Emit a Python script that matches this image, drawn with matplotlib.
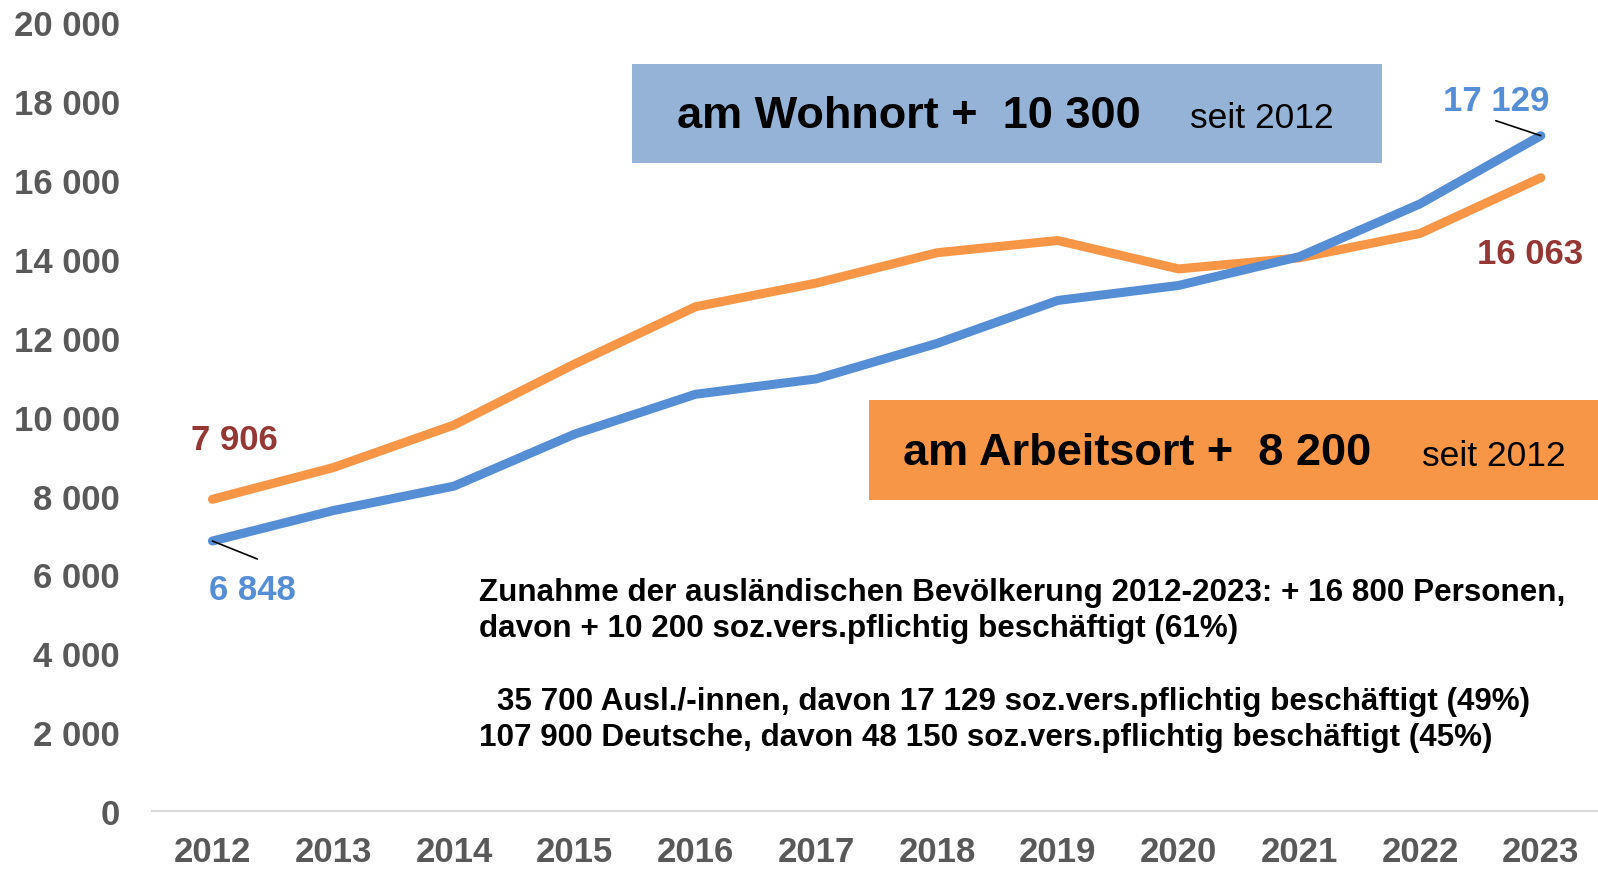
import matplotlib
matplotlib.use("Agg")
import matplotlib.pyplot as plt
from matplotlib.patches import Rectangle
from matplotlib.ticker import FuncFormatter

years = ["2012", "2013", "2014", "2015", "2016", "2017", "2018", "2019", "2020", "2021", "2022", "2023"]
wohnort = [6848, 7620, 8240, 9560, 10570, 10960, 11860, 12950, 13330, 14060, 15400, 17129]
arbeitsort = [7906, 8710, 9790, 11340, 12790, 13390, 14160, 14470, 13750, 14030, 14650, 16063]
yticks = list(range(0, 20001, 2000))

BLUE = "#558ED5"
ORANGE = "#F79646"
DARKRED = "#953735"
GREY = "#595959"

plt.rcParams['font.family'] = ['Liberation Sans', 'DejaVu Sans']

fig = plt.figure(figsize=(15.98, 8.7), dpi=100)
W, H = 1598, 870
ax = fig.add_axes([152 / W, (H - 812) / H, 1 - 152 / W + 0.002, (812 - 23.5) / H])

x = list(range(len(years)))
ax.plot(x, arbeitsort, color=ORANGE, lw=6.5, solid_capstyle='round', solid_joinstyle='round', zorder=3)
ax.plot(x, wohnort, color=BLUE, lw=6.5, solid_capstyle='round', solid_joinstyle='round', zorder=4)

ax.set_xlim(-0.5, 11.5)
ax.set_ylim(0, 20000)
ax.set_xticks(x)
ax.set_xticklabels(years)
ax.set_yticks(yticks)
ax.yaxis.set_major_formatter(FuncFormatter(lambda v, p: f"{int(v):,}".replace(",", " ")))
for s in ["top", "right", "left"]:
    ax.spines[s].set_visible(False)
ax.spines["bottom"].set_color("#D9D9D9")
ax.spines["bottom"].set_linewidth(1.5)
ax.tick_params(axis='y', length=0, pad=23, labelsize=25, labelcolor=GREY)
ax.tick_params(axis='x', length=0, pad=17, labelsize=25, labelcolor=GREY)
for t in ax.get_xticklabels() + ax.get_yticklabels():
    t.set_fontweight('bold')

def px(dx, dy):
    return (dx * 0.72, -dy * 0.72)

# data labels
ax.annotate(f"{arbeitsort[0]:,}".replace(",", " "), xy=(0, arbeitsort[0]), xytext=px(22, -60),
            textcoords='offset points', ha='center', va='center', fontsize=25, fontweight='bold', color=DARKRED)
ax.annotate("", xy=(0, wohnort[0]), xytext=px(45, 18), textcoords='offset points',
            arrowprops=dict(arrowstyle='-', color='black', lw=1.2, shrinkA=0, shrinkB=0), zorder=5)
ax.annotate(f"{wohnort[0]:,}".replace(",", " "), xy=(0, wohnort[0]), xytext=px(40, 48),
            textcoords='offset points', ha='center', va='center', fontsize=25, fontweight='bold', color=BLUE)
ax.annotate("", xy=(11, wohnort[-1]), xytext=px(-45, -15), textcoords='offset points',
            arrowprops=dict(arrowstyle='-', color='black', lw=1.2, shrinkA=0, shrinkB=0), zorder=5)
ax.annotate(f"{wohnort[-1]:,}".replace(",", " "), xy=(11, wohnort[-1]), xytext=px(-45, -35),
            textcoords='offset points', ha='center', va='center', fontsize=25, fontweight='bold', color=BLUE)
ax.annotate(f"{arbeitsort[-1]:,}".replace(",", " "), xy=(11, arbeitsort[-1]), xytext=px(-11, 76),
            textcoords='offset points', ha='center', va='center', fontsize=25, fontweight='bold', color=DARKRED)

# boxes
def fbox(x0, y0, x1, y1, color):
    fig.patches.append(Rectangle((x0 / W, 1 - y1 / H), (x1 - x0) / W, (y1 - y0) / H,
                                 transform=fig.transFigure, facecolor=color, edgecolor='none', zorder=6))

fbox(632, 65, 1382, 164, "#95B3D7")
fbox(869, 401, 1600, 501, ORANGE)

def ftext(xp, yp, s, **kw):
    fig.text(xp / W, 1 - yp / H, s, zorder=7, **kw)

ftext(677, 117, "am Wohnort +  10 300", fontsize=32.5, fontweight='bold', color='black', va='center', ha='left')
ftext(1190, 119, "seit 2012", fontsize=25.5, color='black', va='center', ha='left')
ftext(903, 454, "am Arbeitsort +  8 200", fontsize=32.5, fontweight='bold', color='black', va='center', ha='left')
ftext(1422, 456, "seit 2012", fontsize=25.5, color='black', va='center', ha='left')

lines = [
    (479, 593, "Zunahme der ausländischen Bevölkerung 2012-2023: + 16 800 Personen,"),
    (479, 629, "davon + 10 200 soz.vers.pflichtig beschäftigt (61%)"),
    (497, 702, "35 700 Ausl./-innen, davon 17 129 soz.vers.pflichtig beschäftigt (49%)"),
    (479, 738, "107 900 Deutsche, davon 48 150 soz.vers.pflichtig beschäftigt (45%)"),
]
for xp, yp, s in lines:
    ftext(xp, yp, s, fontsize=22.6, fontweight='bold', color='black', va='center', ha='left')

fig.savefig("out.png", dpi=100)
